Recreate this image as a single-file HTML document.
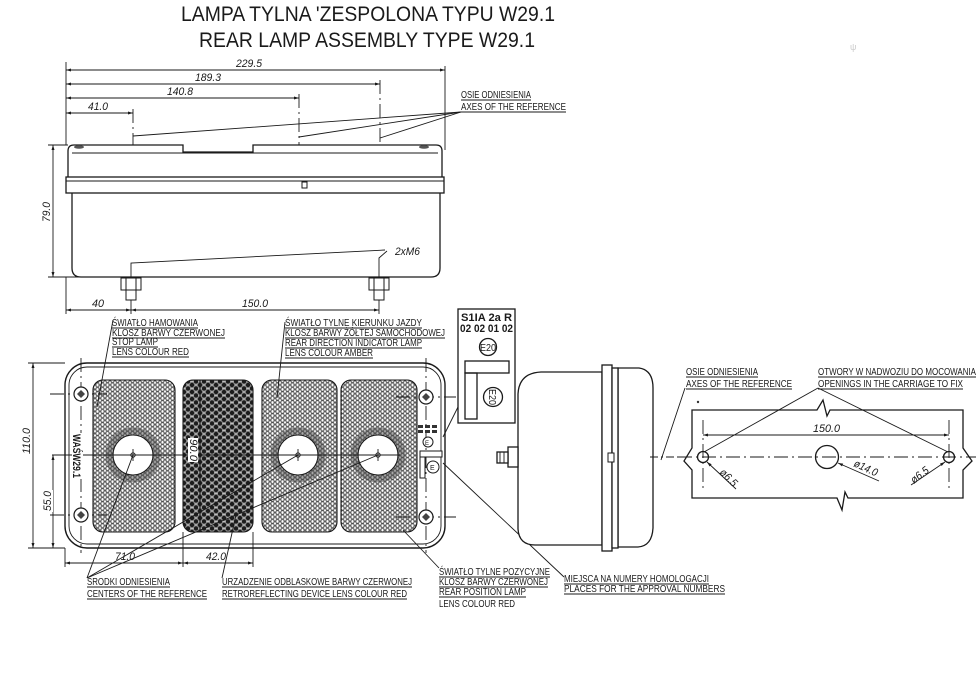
<!DOCTYPE html>
<html><head><meta charset="utf-8"><style>
html,body{margin:0;padding:0;background:#fff;}
svg{display:block;}
.t{font-family:"Liberation Sans",sans-serif;fill:#1a1a1a;}
.d{font-family:"Liberation Sans",sans-serif;fill:#1a1a1a;font-style:italic;font-size:11px;}
.l{font-family:"Liberation Sans",sans-serif;fill:#1a1a1a;font-size:10px;}
</style></head><body>
<svg width="977" height="677" viewBox="0 0 977 677" xmlns="http://www.w3.org/2000/svg">
<defs>
<marker id="a" viewBox="0 0 10 6" refX="10" refY="3" markerWidth="8" markerHeight="3" orient="auto-start-reverse" markerUnits="userSpaceOnUse"><path d="M0,0 L10,3 L0,6 z" fill="#1a1a1a"/></marker>
<pattern id="hc" patternUnits="userSpaceOnUse" width="5" height="4.4">
<rect width="5" height="4.4" fill="#fff"/>
<g fill="none" stroke="#333" stroke-width="0.5">
<circle cx="0" cy="0" r="2.1"/><circle cx="5" cy="0" r="2.1"/><circle cx="2.5" cy="2.2" r="2.1"/><circle cx="0" cy="4.4" r="2.1"/><circle cx="5" cy="4.4" r="2.1"/>
</g></pattern>
<pattern id="rr" patternUnits="userSpaceOnUse" width="8" height="7">
<rect width="8" height="7" fill="#8c8c8c"/>
<path d="M0 3.5 H8 M4 0 V7" stroke="#cfcfcf" stroke-width="0.8"/>
<circle cx="0" cy="0" r="2.2" fill="#1c1c1c"/><circle cx="8" cy="0" r="2.2" fill="#1c1c1c"/><circle cx="0" cy="7" r="2.2" fill="#1c1c1c"/><circle cx="8" cy="7" r="2.2" fill="#1c1c1c"/><circle cx="4" cy="3.5" r="2.2" fill="#1c1c1c"/>
</pattern>
</defs>
<rect width="977" height="677" fill="#fff"/>

<!-- Title -->
<text class="t" x="181" y="21" font-size="21" textLength="374" lengthAdjust="spacingAndGlyphs">LAMPA TYLNA 'ZESPOLONA TYPU W29.1</text>
<text class="t" x="199" y="47" font-size="21" textLength="336" lengthAdjust="spacingAndGlyphs">REAR LAMP ASSEMBLY TYPE W29.1</text>

<g stroke="#1a1a1a" fill="none" stroke-width="0.9">
<line x1="66" y1="62" x2="66" y2="145"/>
<line x1="66" y1="70" x2="445" y2="70" marker-start="url(#a)" marker-end="url(#a)"/>
<line x1="66" y1="84" x2="380" y2="84" marker-start="url(#a)" marker-end="url(#a)"/>
<line x1="66" y1="98" x2="299" y2="98" marker-start="url(#a)" marker-end="url(#a)"/>
<line x1="66" y1="113" x2="133" y2="113" marker-start="url(#a)" marker-end="url(#a)"/>
<line x1="445" y1="66" x2="445" y2="150"/>
<line x1="380" y1="80" x2="380" y2="145" stroke-dasharray="14 4 2 4"/>
<line x1="299" y1="94" x2="299" y2="145" stroke-dasharray="14 4 2 4"/>
<line x1="133" y1="109" x2="133" y2="145" stroke-dasharray="14 4 2 4"/>
<polyline points="566,112 461,112 133,136"/>
<line x1="461" y1="112" x2="299" y2="137"/>
<line x1="461" y1="112" x2="380" y2="138"/>
<line x1="461" y1="100" x2="531" y2="100"/>
</g>
<text class="d" x="236" y="67" textLength="26" lengthAdjust="spacingAndGlyphs">229.5</text>
<text class="d" x="195" y="81" textLength="26" lengthAdjust="spacingAndGlyphs">189.3</text>
<text class="d" x="167" y="95" textLength="26" lengthAdjust="spacingAndGlyphs">140.8</text>
<text class="d" x="88" y="110" textLength="20" lengthAdjust="spacingAndGlyphs">41.0</text>
<text class="l" x="461" y="98" textLength="70" lengthAdjust="spacingAndGlyphs">OSIE ODNIESIENIA</text>
<text class="l" x="461" y="110" textLength="105" lengthAdjust="spacingAndGlyphs">AXES OF THE REFERENCE</text>

<!-- Top view lamp -->
<g stroke="#1a1a1a" fill="none" stroke-width="1.3">
<path d="M68 177 L68 151 Q68 145 74 145 L183 145 L183 152 L253 152 L253 145 L436 145 Q442 145 442 151 L442 177"/>
<line x1="72" y1="153" x2="438" y2="153" stroke-width="1"/>
<rect x="66" y="177" width="378" height="16"/>
<line x1="66" y1="181" x2="444" y2="181" stroke-width="1"/>
<rect x="302" y="182" width="5" height="6" stroke-width="1"/>
<path d="M72 193 L72 268 Q72 277 81 277 L431 277 Q440 277 440 268 L440 193"/>
</g>
<ellipse cx="79" cy="147" rx="5" ry="1.8" fill="#555"/>
<ellipse cx="424" cy="147" rx="5" ry="1.8" fill="#555"/>
<g stroke="#1a1a1a" fill="#fff" stroke-width="1">
<rect x="121" y="278" width="20" height="12"/><line x1="126" y1="278" x2="126" y2="290"/><line x1="136" y1="278" x2="136" y2="290"/>
<rect x="126" y="290" width="10" height="10"/>
<rect x="369" y="278" width="20" height="12"/><line x1="374" y1="278" x2="374" y2="290"/><line x1="384" y1="278" x2="384" y2="290"/>
<rect x="374" y="290" width="10" height="10"/>
</g>
<g stroke="#1a1a1a" fill="none" stroke-width="0.9">
<line x1="48" y1="145" x2="68" y2="145"/>
<line x1="48" y1="277" x2="80" y2="277"/>
<line x1="53" y1="145" x2="53" y2="277" marker-start="url(#a)" marker-end="url(#a)"/>
<polyline points="131,277 131,263 385,250"/>
<polyline points="379,277 379,258 387,251"/>
<line x1="66" y1="277" x2="66" y2="314"/>
<line x1="131" y1="300" x2="131" y2="314"/>
<line x1="379" y1="300" x2="379" y2="314"/>
<line x1="66" y1="310" x2="131" y2="310" marker-start="url(#a)" marker-end="url(#a)"/>
<line x1="131" y1="310" x2="379" y2="310" marker-start="url(#a)" marker-end="url(#a)"/>
</g>
<text class="d" transform="translate(50,222) rotate(-90)" textLength="20" lengthAdjust="spacingAndGlyphs">79.0</text>
<text class="d" x="395" y="255" textLength="25" lengthAdjust="spacingAndGlyphs">2xM6</text>
<text class="d" x="92" y="307" textLength="12" lengthAdjust="spacingAndGlyphs">40</text>
<text class="d" x="242" y="307" textLength="26" lengthAdjust="spacingAndGlyphs">150.0</text>

<!-- Front view -->
<g stroke="#1a1a1a" fill="none" stroke-width="1.4">
<rect x="65" y="363" width="380" height="185" rx="22"/>
<rect x="69" y="367" width="372" height="177" rx="18" stroke-width="0.9"/>
</g>
<g stroke="#1a1a1a" stroke-width="1.1">
<rect x="93" y="380" width="82" height="152" rx="10" fill="url(#hc)"/>
<rect x="183" y="380" width="70" height="152" rx="10" fill="url(#rr)"/>
<rect x="262" y="380" width="75" height="152" rx="10" fill="url(#hc)"/>
<rect x="341" y="380" width="76" height="152" rx="10" fill="url(#hc)"/>
</g>
<g fill="none" stroke="#444" stroke-width="7" opacity="0.45">
<circle cx="133" cy="455" r="24"/><circle cx="298" cy="455" r="24"/><circle cx="378" cy="455" r="24"/>
</g>
<g fill="#fff" stroke="#1a1a1a" stroke-width="1.1">
<circle cx="133" cy="455" r="20"/><circle cx="298" cy="455" r="20"/><circle cx="378" cy="455" r="20"/>
</g>
<g stroke="#1a1a1a" fill="none" stroke-width="0.9">
<line x1="52" y1="455" x2="400" y2="455"/>
<circle cx="133" cy="455" r="2.2"/><line x1="133" y1="449" x2="133" y2="461"/>
<circle cx="298" cy="455" r="2.2"/><line x1="298" y1="449" x2="298" y2="461"/>
<circle cx="378" cy="455" r="2.2"/><line x1="378" y1="449" x2="378" y2="461"/>
<line x1="81" y1="358" x2="81" y2="553" stroke-dasharray="14 4 2 4"/>
<line x1="426" y1="358" x2="426" y2="553" stroke-dasharray="14 4 2 4"/>
<line x1="50" y1="394" x2="107" y2="394" stroke-dasharray="14 4 2 4"/>
<line x1="50" y1="515" x2="107" y2="515" stroke-dasharray="14 4 2 4"/>
<line x1="396" y1="397" x2="456" y2="397" stroke-dasharray="14 4 2 4"/>
<line x1="396" y1="517" x2="456" y2="517" stroke-dasharray="14 4 2 4"/>
<line x1="200" y1="380" x2="200" y2="532" stroke-width="1.2"/>
<line x1="28" y1="363" x2="65" y2="363"/>
<line x1="28" y1="548" x2="65" y2="548"/>
<line x1="33" y1="363" x2="33" y2="548" marker-start="url(#a)" marker-end="url(#a)"/>
<line x1="53" y1="455" x2="53" y2="548" marker-start="url(#a)" marker-end="url(#a)"/>
<line x1="65" y1="548" x2="65" y2="567"/>
<line x1="183" y1="532" x2="183" y2="567"/>
<line x1="253" y1="532" x2="253" y2="567"/>
<line x1="65" y1="563" x2="183" y2="563" marker-start="url(#a)" marker-end="url(#a)"/>
<line x1="183" y1="563" x2="253" y2="563" marker-start="url(#a)" marker-end="url(#a)"/>
</g>
<g stroke="#1a1a1a" fill="#fff" stroke-width="1.2">
<circle cx="81" cy="394" r="7"/><circle cx="81" cy="515" r="7"/><circle cx="426" cy="397" r="7"/><circle cx="426" cy="517" r="7"/>
</g>
<g fill="#444">
<path d="M81 390 L85 394 L81 398 L77 394z"/><path d="M81 511 L85 515 L81 519 L77 515z"/><path d="M426 393 L430 397 L426 401 L422 397z"/><path d="M426 513 L430 517 L426 521 L422 517z"/>
</g>
<rect x="72" y="433" width="11" height="46" fill="#fff"/>
<text class="t" font-weight="bold" font-size="11" transform="translate(73,434) rotate(90)" textLength="44" lengthAdjust="spacingAndGlyphs">WAŚW29.1</text>
<rect x="188" y="438" width="10" height="24" fill="#fff"/>
<text class="d" transform="translate(190,439) rotate(90)" textLength="22" lengthAdjust="spacingAndGlyphs">90.0</text>
<rect x="22" y="427" width="10" height="28" fill="#fff"/>
<text class="d" transform="translate(30,454) rotate(-90)" textLength="26" lengthAdjust="spacingAndGlyphs">110.0</text>
<rect x="43" y="490" width="10" height="22" fill="#fff"/>
<text class="d" transform="translate(51,511) rotate(-90)" textLength="20" lengthAdjust="spacingAndGlyphs">55.0</text>
<text class="d" x="115" y="560" textLength="20" lengthAdjust="spacingAndGlyphs">71.0</text>
<text class="d" x="206" y="560" textLength="20" lengthAdjust="spacingAndGlyphs">42.0</text>

<!-- approval marks on front -->
<g fill="#333">
<rect x="418" y="425" width="5" height="3"/><rect x="425" y="425" width="5" height="3"/><rect x="432" y="425" width="5" height="3"/>
<rect x="418" y="430" width="5" height="3"/><rect x="425" y="430" width="5" height="3"/><rect x="432" y="430" width="5" height="3"/>
</g>
<g stroke="#1a1a1a" fill="#fff" stroke-width="1">
<circle cx="428" cy="442" r="5"/>
<rect x="420" y="451" width="22" height="6"/>
<rect x="420" y="457" width="5" height="21"/>
<circle cx="433" cy="467" r="6"/>
</g>
<text class="t" x="425" y="445" font-size="6">E</text>
<text class="t" x="430" y="470" font-size="7">E</text>

<!-- front labels -->
<g stroke="#1a1a1a" fill="none" stroke-width="0.9">
<line x1="113" y1="320" x2="97" y2="407"/>
<line x1="285" y1="322" x2="277" y2="398"/>
<line x1="87" y1="578" x2="133" y2="455"/>
<line x1="87" y1="578" x2="298" y2="455"/>
<line x1="87" y1="578" x2="378" y2="455"/>
<line x1="222" y1="578" x2="236" y2="515"/>
<line x1="439" y1="568" x2="403" y2="530"/>
<line x1="564" y1="577" x2="443" y2="463"/>
<line x1="458" y1="407" x2="443" y2="437"/>
<line x1="112" y1="328" x2="198" y2="328"/><line x1="112" y1="338" x2="225" y2="338"/><line x1="112" y1="347" x2="158" y2="347"/><line x1="112" y1="357" x2="189" y2="357"/>
<line x1="285" y1="328" x2="422" y2="328"/><line x1="285" y1="338" x2="445" y2="338"/><line x1="285" y1="348" x2="422" y2="348"/><line x1="285" y1="358" x2="373" y2="358"/>
<line x1="87" y1="587" x2="170" y2="587"/><line x1="87" y1="599" x2="207" y2="599"/>
<line x1="222" y1="587" x2="412" y2="587"/><line x1="222" y1="599" x2="407" y2="599"/>
<line x1="439" y1="577" x2="550" y2="577"/><line x1="439" y1="587" x2="548" y2="587"/><line x1="439" y1="597" x2="526" y2="597"/>
<line x1="564" y1="584" x2="709" y2="584"/><line x1="564" y1="594" x2="725" y2="594"/>
</g>
<text class="l" x="112" y="326" textLength="86" lengthAdjust="spacingAndGlyphs">ŚWIATŁO HAMOWANIA</text>
<text class="l" x="112" y="336" textLength="113" lengthAdjust="spacingAndGlyphs">KLOSZ BARWY CZERWONEJ</text>
<text class="l" x="112" y="345" textLength="46" lengthAdjust="spacingAndGlyphs">STOP LAMP</text>
<text class="l" x="112" y="355" textLength="77" lengthAdjust="spacingAndGlyphs">LENS COLOUR RED</text>
<text class="l" x="285" y="326" textLength="137" lengthAdjust="spacingAndGlyphs">ŚWIATŁO TYLNE KIERUNKU JAZDY</text>
<text class="l" x="285" y="336" textLength="160" lengthAdjust="spacingAndGlyphs">KLOSZ BARWY ŻÓŁTEJ SAMOCHODOWEJ</text>
<text class="l" x="285" y="346" textLength="137" lengthAdjust="spacingAndGlyphs">REAR DIRECTION INDICATOR LAMP</text>
<text class="l" x="285" y="356" textLength="88" lengthAdjust="spacingAndGlyphs">LENS COLOUR AMBER</text>
<text class="l" x="87" y="585" textLength="83" lengthAdjust="spacingAndGlyphs">ŚRODKI ODNIESIENIA</text>
<text class="l" x="87" y="597" textLength="120" lengthAdjust="spacingAndGlyphs">CENTERS OF THE REFERENCE</text>
<text class="l" x="222" y="585" textLength="190" lengthAdjust="spacingAndGlyphs">URZADZENIE ODBLASKOWE BARWY CZERWONEJ</text>
<text class="l" x="222" y="597" textLength="185" lengthAdjust="spacingAndGlyphs">RETROREFLECTING DEVICE LENS COLOUR RED</text>
<text class="l" x="439" y="575" textLength="111" lengthAdjust="spacingAndGlyphs">ŚWIATŁO TYLNE POZYCYJNE</text>
<text class="l" x="439" y="585" textLength="109" lengthAdjust="spacingAndGlyphs">KLOSZ BARWY CZERWONEJ</text>
<text class="l" x="439" y="595" textLength="87" lengthAdjust="spacingAndGlyphs">REAR POSITION LAMP</text>
<text class="l" x="439" y="607" textLength="76" lengthAdjust="spacingAndGlyphs">LENS COLOUR RED</text>
<text class="l" x="564" y="582" textLength="145" lengthAdjust="spacingAndGlyphs">MIEJSCA NA NUMERY HOMOLOGACJI</text>
<text class="l" x="564" y="592" textLength="161" lengthAdjust="spacingAndGlyphs">PLACES FOR THE APPROVAL NUMBERS</text>

<!-- approval box -->
<g stroke="#1a1a1a" fill="none" stroke-width="1.3">
<rect x="458" y="309" width="57" height="114"/>
<circle cx="488" cy="347" r="8.5"/>
<rect x="465" y="361" width="44" height="12"/>
<rect x="465" y="373" width="12" height="46"/>
<circle cx="493" cy="397" r="9.5"/>
</g>
<text class="t" x="461" y="321" font-size="11" font-weight="bold" textLength="51" lengthAdjust="spacingAndGlyphs">S1IA 2a R</text>
<text class="t" x="460" y="332" font-size="11" font-weight="bold" textLength="53" lengthAdjust="spacingAndGlyphs">02 02 01 02</text>
<text class="t" x="480" y="351" font-size="10" textLength="16" lengthAdjust="spacingAndGlyphs">E20</text>
<text class="t" transform="translate(489,389) rotate(90)" font-size="10" textLength="16" lengthAdjust="spacingAndGlyphs">E20</text>

<!-- side view -->
<g stroke="#1a1a1a" fill="#fff" stroke-width="1.3">
<path d="M602 372 L541 372 Q519 373 518 394 L518 529 Q519 545 535 545 L602 545 Z"/>
<path d="M618 368 L639 368 Q653 370 653 388 L653 528 Q652 546 638 547 L618 547 Z"/>
<rect x="602" y="365" width="10" height="186"/>
<rect x="612" y="368" width="6" height="180"/>
<rect x="608" y="453" width="6" height="9" stroke-width="1"/>
<rect x="508" y="447" width="10" height="20"/>
<rect x="497" y="452" width="11" height="11"/>
</g>
<g stroke="#1a1a1a" stroke-width="0.9" fill="none">
<line x1="500" y1="452" x2="500" y2="463"/><line x1="504" y1="452" x2="504" y2="463"/><line x1="508" y1="452" x2="508" y2="463"/>
<line x1="650" y1="457" x2="680" y2="457" stroke-dasharray="8 3 2 3"/>
<line x1="685" y1="388" x2="661" y2="460"/>
</g>

<!-- right detail -->
<g stroke="#1a1a1a" fill="none" stroke-width="1.3">
<path d="M692 448 L692 410 L817 410 L823 400 L827 416 L830 410 L963 410 L963 448 L972 461 L963 470 L963 498 L848 498 L845 492 L842 510 L837 498 L692 498 L692 470 L684 461 Z"/>
<circle cx="703" cy="457" r="5.5"/>
<circle cx="949" cy="457" r="5.5"/>
<circle cx="827" cy="457" r="11.5"/>
</g>
<g stroke="#1a1a1a" fill="none" stroke-width="0.9">
<line x1="678" y1="457" x2="976" y2="457" stroke-dasharray="14 4 2 4"/>
<line x1="703" y1="420" x2="703" y2="492" stroke-dasharray="14 4 2 4"/>
<line x1="949" y1="420" x2="949" y2="492" stroke-dasharray="14 4 2 4"/>
<line x1="703" y1="435" x2="949" y2="435" marker-start="url(#a)" marker-end="url(#a)"/>
<line x1="818" y1="388" x2="704" y2="452"/>
<line x1="818" y1="388" x2="948" y2="452"/>
<line x1="736" y1="489" x2="707" y2="462" marker-end="url(#a)"/>
<line x1="879" y1="481" x2="838" y2="463" marker-end="url(#a)"/>
<line x1="911" y1="485" x2="945" y2="462" marker-end="url(#a)"/>
<line x1="686" y1="377" x2="758" y2="377"/><line x1="686" y1="389" x2="792" y2="389"/>
<line x1="818" y1="377" x2="976" y2="377"/><line x1="818" y1="389" x2="963" y2="389"/>
</g>
<circle cx="698" cy="402" r="1.2" fill="#333"/>
<text class="l" x="686" y="375" textLength="72" lengthAdjust="spacingAndGlyphs">OSIE ODNIESIENIA</text>
<text class="l" x="686" y="387" textLength="106" lengthAdjust="spacingAndGlyphs">AXES OF THE REFERENCE</text>
<text class="l" x="818" y="375" textLength="158" lengthAdjust="spacingAndGlyphs">OTWORY W NADWOZIU DO MOCOWANIA</text>
<text class="l" x="818" y="387" textLength="145" lengthAdjust="spacingAndGlyphs">OPENINGS IN THE CARRIAGE TO FIX</text>
<text class="d" x="813" y="432" textLength="27" lengthAdjust="spacingAndGlyphs">150.0</text>
<text class="d" transform="translate(719,473) rotate(45)" textLength="20" lengthAdjust="spacingAndGlyphs">ø6.5</text>
<text class="d" transform="translate(853,466) rotate(25)" textLength="25" lengthAdjust="spacingAndGlyphs">ø14.0</text>
<text class="d" transform="translate(914,484) rotate(-38)" textLength="20" lengthAdjust="spacingAndGlyphs">ø6.5</text>
<text class="t" x="850" y="50" font-size="9" style="fill:#ccc">ψ</text>
</svg>
</body></html>
